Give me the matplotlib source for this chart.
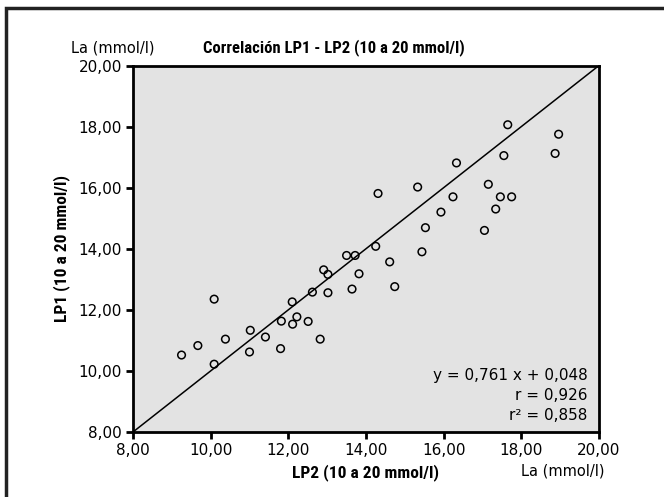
import matplotlib
matplotlib.use("Agg")
import matplotlib.pyplot as plt
from matplotlib import font_manager
from matplotlib.patches import Rectangle

# narrow bold font for title/labels if available
names = {f.name for f in font_manager.fontManager.ttflist}
cands = ['Roboto Condensed', 'Liberation Sans Narrow', 'Liberation Sans']
bold_font = [c for c in cands if c in names][0]
plt.rcParams['font.family'] = ['DejaVu Sans']

# LP2 (x) vs LP1 (y), La in mmol/l
lp2 = [9.25, 9.67, 10.09, 10.09, 10.38, 11.02, 11.00, 11.41, 11.80, 11.82,
       12.10, 12.11, 12.22, 12.51, 12.82, 12.62, 13.02, 12.91, 13.02, 13.64,
       13.82, 13.50, 13.72, 14.25, 14.61, 14.74, 14.31, 15.33, 15.44, 15.53,
       15.93, 16.24, 16.33, 17.15, 17.46, 17.75, 17.34, 17.05, 17.55, 17.65,
       18.96, 18.87]
lp1 = [10.52, 10.83, 12.35, 10.22, 11.04, 11.33, 10.62, 11.11, 10.73, 11.63,
       12.26, 11.53, 11.77, 11.62, 11.04, 12.58, 12.56, 13.31, 13.16, 12.68,
       13.18, 13.78, 13.78, 14.08, 13.57, 12.76, 15.81, 16.02, 13.90, 14.69,
       15.20, 15.70, 16.81, 16.11, 15.70, 15.70, 15.30, 14.60, 17.05, 18.06,
       17.75, 17.12]
ticks = [8, 10, 12, 14, 16, 18, 20]
tick_labels = ['8,00', '10,00', '12,00', '14,00', '16,00', '18,00', '20,00']
stats = ['y = 0,761 x + 0,048', 'r = 0,926', 'r² = 0,858']

fig = plt.figure(figsize=(6.64, 4.97), dpi=100)
fig.patches.append(Rectangle((6 / 664, -0.05), 1.0, 1 - 8 / 497 + 0.05,
                             transform=fig.transFigure, fill=False,
                             edgecolor='#222222', linewidth=2.5))

ax = fig.add_axes([133 / 664, 1 - 432 / 497, 466 / 664, 366.5 / 497])
ax.set_facecolor('#e3e3e3')
ax.plot([8, 20], [8, 20], color='black', linewidth=1.1, zorder=2)
ax.scatter(lp2, lp1, s=30, facecolors='none', edgecolors='black',
           linewidths=1.1, zorder=3)

ax.set_xlim(8, 20)
ax.set_ylim(8, 20)
ax.set_xticks(ticks)
ax.set_xticklabels(tick_labels)
ax.set_yticks(ticks)
ax.set_yticklabels(tick_labels)
ax.tick_params(direction='out', length=5, width=2, labelsize=11, pad=3)
for s in ax.spines.values():
    s.set_linewidth(2)

ax.set_xlabel('LP2 (10 a 20 mmol/l)', fontsize=12.5, fontweight='bold',
              family=bold_font, labelpad=4)
ax.set_ylabel('LP1 (10 a 20 mmol/l)', fontsize=12.5, fontweight='bold',
              family=bold_font, labelpad=6)

fig.text(334 / 664, 1 - 48 / 497, 'Correlación LP1 - LP2 (10 a 20 mmol/l)',
         fontsize=12, fontweight='bold', family=bold_font, ha='center', va='center')
fig.text(113 / 664, 1 - 48 / 497, 'La (mmol/l)', fontsize=10.5, ha='center', va='center')
fig.text(563 / 664, 1 - 471 / 497, 'La (mmol/l)', fontsize=10.5, ha='center', va='center')

for i, t in enumerate(stats):
    ax.text(0.976, 0.153 - i * 0.054, t, transform=ax.transAxes, fontsize=11,
            ha='right', va='center')

fig.savefig('out.png', dpi=100)
